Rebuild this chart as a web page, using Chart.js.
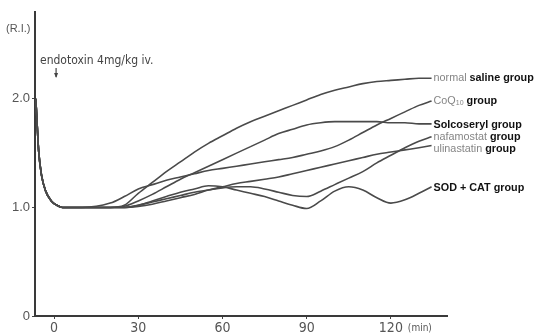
<!DOCTYPE html>
<html>
<head>
<meta charset="utf-8">
<script src="https://cdn.jsdelivr.net/npm/chart.js@4/dist/chart.umd.min.js"></script>
<style>
  html, body { margin: 0; padding: 0; background: #fff; }
  #wrap { width: 537px; height: 334px; }
</style>
</head>
<body>
<div id="wrap"><canvas id="c" width="537" height="334"></canvas></div>
<script>
// Sampling times (min) after endotoxin injection
const minutes = [-6.5, -6, -5.5, -4.5, -3, -1, 1, 3, 10, 20, 25, 30, 35, 40, 45, 50, 55, 60, 65,
                 70, 75, 80, 85, 90, 95, 100, 105, 110, 115, 120, 125, 130, 134.5];

// Relative index (R.I.) per group, one value per sampling time
const normalSaline = [2.0, 1.75, 1.52, 1.3, 1.15, 1.06, 1.02, 1.0, 1.0, 1.0, 1.02, 1.13, 1.23, 1.33, 1.42, 1.51, 1.59, 1.66, 1.73,
                      1.79, 1.84, 1.89, 1.94, 1.99, 2.04, 2.08, 2.11, 2.14, 2.16, 2.17, 2.18, 2.19, 2.19];
const coq10 =        [2.0, 1.75, 1.52, 1.3, 1.15, 1.06, 1.02, 1.0, 1.0, 1.04, 1.10, 1.17, 1.21, 1.25, 1.28, 1.31, 1.34, 1.36, 1.38,
                      1.40, 1.42, 1.44, 1.46, 1.49, 1.52, 1.56, 1.62, 1.69, 1.76, 1.82, 1.88, 1.94, 1.98];
const solcoseryl =   [2.0, 1.75, 1.52, 1.3, 1.15, 1.06, 1.02, 1.0, 1.0, 1.0, 1.01, 1.06, 1.12, 1.19, 1.26, 1.32, 1.38, 1.44, 1.50,
                      1.56, 1.62, 1.68, 1.72, 1.76, 1.78, 1.79, 1.79, 1.79, 1.79, 1.78, 1.78, 1.77, 1.77];
const nafamostat =   [2.0, 1.75, 1.52, 1.3, 1.15, 1.06, 1.02, 1.0, 1.0, 1.0, 1.0, 1.02, 1.05, 1.08, 1.11, 1.14, 1.16, 1.18, 1.19,
                      1.19, 1.17, 1.14, 1.11, 1.10, 1.15, 1.21, 1.27, 1.33, 1.41, 1.48, 1.55, 1.61, 1.65];
const ulinastatin =  [2.0, 1.75, 1.52, 1.3, 1.15, 1.06, 1.02, 1.0, 1.0, 1.0, 1.0, 1.01, 1.03, 1.06, 1.09, 1.12, 1.16, 1.19, 1.22,
                      1.24, 1.26, 1.28, 1.31, 1.34, 1.37, 1.40, 1.43, 1.46, 1.49, 1.51, 1.53, 1.55, 1.57];
const sodCat =       [2.0, 1.75, 1.52, 1.3, 1.15, 1.06, 1.02, 1.0, 1.0, 1.0, 1.0, 1.02, 1.06, 1.10, 1.14, 1.17, 1.20, 1.19, 1.16,
                      1.13, 1.10, 1.06, 1.02, 0.99, 1.06, 1.15, 1.19, 1.16, 1.09, 1.04, 1.07, 1.13, 1.19];

// Axis ticks
const xTickValues = [0, 30, 60, 90, 120];
const yTickValues = [0, 1, 2];

const seriesList = [normalSaline, coq10, solcoseryl, nafamostat, ulinastatin, sodCat];
const seriesNames = ['normal saline group', 'CoQ10 group', 'Solcoseryl group',
                     'nafamostat group', 'ulinastatin group', 'SOD + CAT group'];

const GREY = '#858585', INK = '#111';
// How each end label is set: text pieces with colour / weight, plus a small vertical nudge
const labelStyles = [
  { dy: 0,  parts: [{ t: 'normal ', c: GREY, w: 'normal' }, { t: 'saline group', c: INK, w: 'bold' }] },
  { dy: 0,  parts: [{ t: 'CoQ', c: GREY, w: 'normal' }, { t: '10', c: GREY, w: 'normal', sub: true }, { t: ' group', c: INK, w: 'bold' }] },
  { dy: 1,  parts: [{ t: 'Solcoseryl group', c: INK, w: 'bold' }] },
  { dy: 0,  parts: [{ t: 'nafamostat ', c: GREY, w: 'normal' }, { t: 'group', c: INK, w: 'bold' }] },
  { dy: 3,  parts: [{ t: 'ulinastatin ', c: GREY, w: 'normal' }, { t: 'group', c: INK, w: 'bold' }] },
  { dy: 1,  parts: [{ t: 'SOD + CAT group', c: INK, w: 'bold' }] }
];

const LABEL_FONT = '"Liberation Sans", Arial, sans-serif';
const TICK_FONT = '"Liberation Sans Narrow", "DejaVu Sans Condensed", "Liberation Sans", sans-serif';

const annotations = {
  id: 'annotations',
  afterDraw(chart) {
    const ctx = chart.ctx;
    const xs = chart.scales.x, ys = chart.scales.y;
    ctx.save();
    ctx.textBaseline = 'middle';

    // Group labels at the end of each curve
    seriesList.forEach((vals, i) => {
      const lastT = minutes[minutes.length - 1];
      let x = xs.getPixelForValue(lastT) + 2;
      const y = ys.getPixelForValue(vals[vals.length - 1]) + labelStyles[i].dy;
      labelStyles[i].parts.forEach(p => {
        const size = p.sub ? 7 : 10.8;
        ctx.font = p.w + ' ' + size + 'px ' + LABEL_FONT;
        ctx.fillStyle = p.c;
        ctx.textAlign = 'left';
        ctx.fillText(p.t, x, y + (p.sub ? 2.5 : 0));
        x += ctx.measureText(p.t).width;
      });
    });

    // Axis unit captions
    ctx.fillStyle = '#555';
    ctx.font = '11px ' + LABEL_FONT;
    ctx.textAlign = 'left';
    ctx.fillText('(R.I.)', 6, 29);
    ctx.font = '10px ' + TICK_FONT;
    ctx.fillText('(min)', xs.getPixelForValue(120) + 17, 328);

    // Injection marker
    ctx.fillStyle = '#444';
    ctx.font = '12px ' + TICK_FONT;
    ctx.fillText('endotoxin 4mg/kg iv.', 40, 61);
    const ax = xs.getPixelForValue(0) + 2;
    ctx.strokeStyle = '#444';
    ctx.lineWidth = 1.2;
    ctx.beginPath();
    ctx.moveTo(ax, 68);
    ctx.lineTo(ax, 77);
    ctx.stroke();
    ctx.beginPath();
    ctx.moveTo(ax - 2, 73);
    ctx.lineTo(ax + 2, 73);
    ctx.lineTo(ax, 78);
    ctx.closePath();
    ctx.fill();
    ctx.restore();
  }
};

new Chart(document.getElementById('c'), {
  type: 'line',
  data: {
    datasets: seriesList.map((vals, i) => ({
      label: seriesNames[i],
      data: minutes.map((t, k) => ({ x: t, y: vals[k] })),
      borderColor: '#4a4a4a',
      borderWidth: 1.6,
      pointRadius: 0,
      fill: false,
      cubicInterpolationMode: 'monotone'
    }))
  },
  options: {
    responsive: false,
    animation: false,
    devicePixelRatio: 1,
    layout: { padding: { top: 12, right: 90, left: 0, bottom: 0 } },
    plugins: { legend: { display: false }, tooltip: { enabled: false } },
    scales: {
      x: {
        type: 'linear',
        min: -6.8,
        max: 140,
        afterBuildTicks(s) { s.ticks = xTickValues.map(v => ({ value: v })); },
        afterFit(s) { s.height = 18; },
        grid: { display: true, drawOnChartArea: false, drawTicks: true, tickLength: 3, color: '#444', lineWidth: 1 },
        border: { display: true, color: '#3a3a3a', width: 2 },
        ticks: { color: '#555', padding: 1, maxRotation: 0, font: { family: TICK_FONT, size: 14 },
                 callback: v => String(v) }
      },
      y: {
        type: 'linear',
        min: 0,
        max: 2.8,
        afterBuildTicks(s) { s.ticks = yTickValues.map(v => ({ value: v })); },
        afterFit(s) { s.width = 35; },
        grid: { display: true, drawOnChartArea: false, drawTicks: true, tickLength: 3, color: '#444', lineWidth: 1 },
        border: { display: true, color: '#3a3a3a', width: 2 },
        ticks: { color: '#555', padding: 2, font: { family: LABEL_FONT, size: 13 },
                 callback: v => (v === 0 ? '0' : v.toFixed(1)) }
      }
    }
  },
  plugins: [annotations]
});
</script>
</body>
</html>
